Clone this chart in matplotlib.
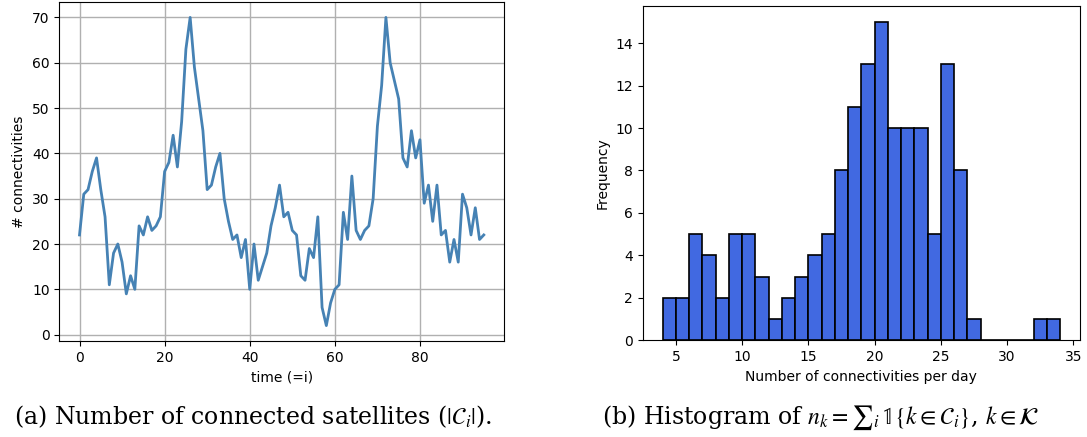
import matplotlib
matplotlib.use('Agg')
import matplotlib.pyplot as plt
import numpy as np

# 시간별 연결 위성 수 (i = 0..95)
connectivities = [22, 31, 32, 36, 39, 32, 26, 11, 18, 20,
                  16, 9, 13, 10, 24, 22, 26, 23, 24, 26,
                  36, 38, 44, 37, 47, 63, 70, 59, 52, 45,
                  32, 33, 37, 40, 30, 25, 21, 22, 17, 21,
                  10, 20, 12, 15, 18, 24, 28, 33, 26, 27,
                  23, 22, 13, 12, 19, 17, 26, 6, 2, 7,
                  10, 11, 27, 21, 35, 23, 21, 23, 24, 30,
                  46, 55, 70, 60, 56, 52, 39, 37, 45, 39,
                  43, 29, 33, 25, 33, 22, 23, 16, 21, 16,
                  31, 28, 22, 28, 21, 22]
time_idx = np.arange(len(connectivities))

# 히스토그램 (bin 왼쪽 경계, 빈도)
bin_left = list(range(4, 34))
bin_count = [2, 2, 5, 4, 2, 5, 5, 3, 1, 2,
             3, 4, 5, 8, 11, 13, 15, 10, 10, 10,
             5, 13, 8, 1, 0, 0, 0, 0, 1, 1]
bin_edges = bin_left + [bin_left[-1] + 1]

plt.rcParams['mathtext.fontset'] = 'stix'

fig = plt.figure(figsize=(10.87, 4.37), dpi=100)

# (a) 라인 차트
ax1 = fig.add_axes([59.3 / 1087, (437 - 341) / 437, (504 - 59.3) / 1087, (341 - 2) / 437])
ax1.plot(time_idx, connectivities, color='steelblue', linewidth=2)
ax1.grid(True, color='#b0b0b0', linewidth=1)
ax1.set_xticks([0, 20, 40, 60, 80])
ax1.set_yticks(range(0, 71, 10))
ax1.set_xlabel('time (=i)')
ax1.set_ylabel('# connectivities')

# (b) 히스토그램
ax2 = fig.add_axes([642.7 / 1087, (437 - 340.3) / 437, (1080 - 642.7) / 1087, (340.3 - 6) / 437])
ax2.hist(np.array(bin_left) + 0.5, bins=bin_edges, weights=bin_count,
         color='royalblue', edgecolor='black', linewidth=1.2)
ax2.set_xticks([5, 10, 15, 20, 25, 30, 35])
ax2.set_yticks(range(0, 15, 2))
ax2.set_xlabel('Number of connectivities per day')
ax2.set_ylabel('Frequency')

# 캡션
cap_font = dict(fontsize=17, family='DejaVu Serif', ha='center', va='baseline')
fig.text(253 / 1087, 1 - 424 / 437, r'(a) Number of connected satellites ($|\mathcal{C}_i|$).', **cap_font)
fig.text(821 / 1087, 1 - 424 / 437,
         r'(b) Histogram of $n_k = {\sum}_i\, \mathbb{1}\{k \in \mathcal{C}_i\}$, $k \in \mathcal{K}$', **cap_font)

plt.savefig('out.png', dpi=100)
plt.close()
